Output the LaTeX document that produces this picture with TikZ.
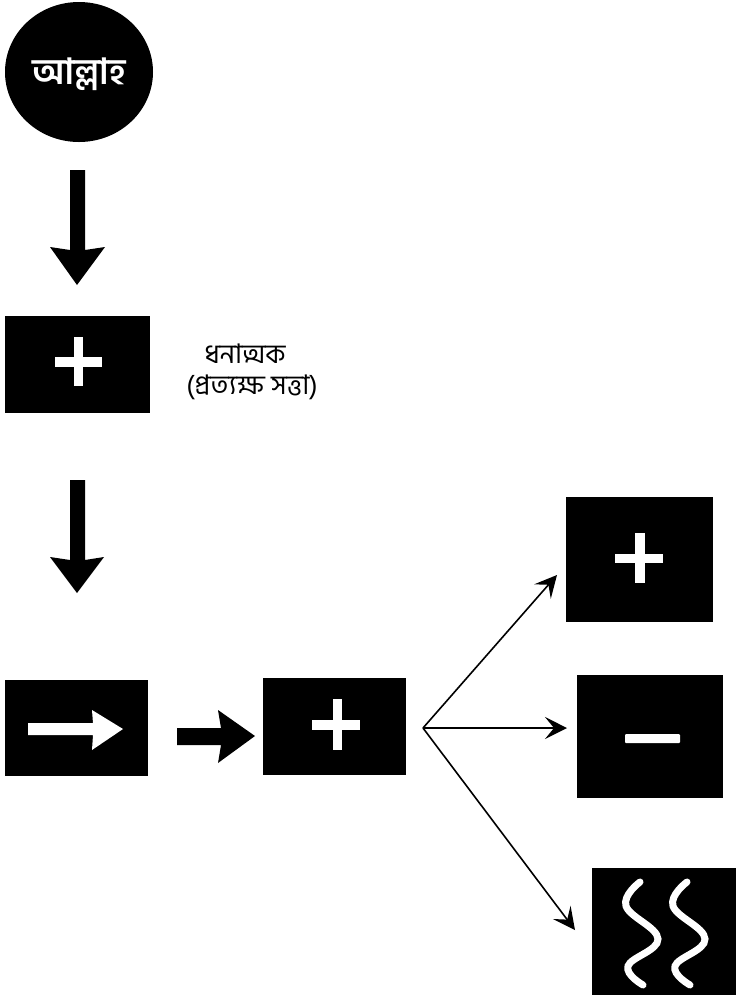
\documentclass[tikz,border=0pt]{standalone}
\usepackage{fontspec}
\newfontfamily\bn[Script=Bengali]{Hind Siliguri}
\usetikzlibrary{shapes.geometric,arrows.meta}
\begin{document}
\begin{tikzpicture}[x=1pt,y=-1pt,
  blackbox/.style={fill=black,draw=none,inner sep=0pt},
  fanarrow/.style={line width=1.6pt,-{Stealth[length=22pt,width=22pt,inset=9pt]}},
  lbl/.style={font=\bn\fontsize{27}{30}\selectfont,inner sep=0pt}]
\useasboundingbox (0,0) rectangle (736,997);
% top ellipse
\node[ellipse,fill=black,minimum width=148pt,minimum height=140pt,inner sep=0pt] (allah) at (79,72) {};
\node[text=white,font=\bn\bfseries\fontsize{36}{40}\selectfont,inner sep=0pt] (allahtxt) at (79,74) {আল্লাহ};
% boxes
\node[blackbox,minimum width=145pt,minimum height=97pt] (b1) at (77.5,364.5) {};
\node[blackbox,minimum width=143pt,minimum height=96pt] (b2) at (76.5,728) {};
\node[blackbox,minimum width=143pt,minimum height=97pt] (b3) at (334.5,726.5) {};
\node[blackbox,minimum width=147pt,minimum height=125pt] (r1) at (639.5,559.5) {};
\node[blackbox,minimum width=146pt,minimum height=123pt] (r2) at (650,736.5) {};
\node[blackbox,minimum width=146pt,minimum height=127pt] (r3) at (665,931.5) {};
% label
\node[lbl] (l1) at (245,354) {ধনাত্মক};
\node[lbl] (l2) at (252,387) {(প্রত্যক্ষ সত্তা)};
% plus signs
\fill[white] (55,357) rectangle (102,367);
\fill[white] (74,337) rectangle (83,386);
\fill[white] (312,720) rectangle (360,730);
\fill[white] (333,699) rectangle (342,750);
\fill[white] (615,554) rectangle (663,563);
\fill[white] (635,533) rectangle (645,583);
% minus
\fill[white,rounded corners=1pt] (625,734) rectangle (680,743);
% white arrow in b2
\fill[white] (28,723) -- (93,723) -- (92,710) -- (123,729) -- (92,750) -- (93,735) -- (28,735) -- cycle;
% thick black arrows
\fill[black] (70,170) -- (85,170) -- (85,250) -- (105,247) -- (77,285) -- (50,247) -- (70,250) -- cycle;
\fill[black] (70,480) -- (85,480) -- (85,560) -- (104,557) -- (77,593) -- (50,557) -- (70,560) -- cycle;
\fill[black] (177,728) -- (221,728) -- (218,710) -- (255,736) -- (218,763) -- (221,745) -- (177,745) -- cycle;
% fan arrows
\coordinate (fan) at (423,728);
\coordinate (e1) at (557,575);
\coordinate (e2) at (567,728);
\coordinate (e3) at (575,930);
\draw[fanarrow] (fan) -- (e1);
\draw[fanarrow] (fan) -- (e2);
\draw[fanarrow] (fan) -- (e3);
% wavy lines
\foreach \dx in {0,47}{
  \draw[white,line width=7pt,line cap=round] plot[smooth,tension=0.7] coordinates
    {(640+\dx,882) (626+\dx,906) (658+\dx,939) (628+\dx,966) (643+\dx,985)};
}
\end{tikzpicture}
\end{document}
